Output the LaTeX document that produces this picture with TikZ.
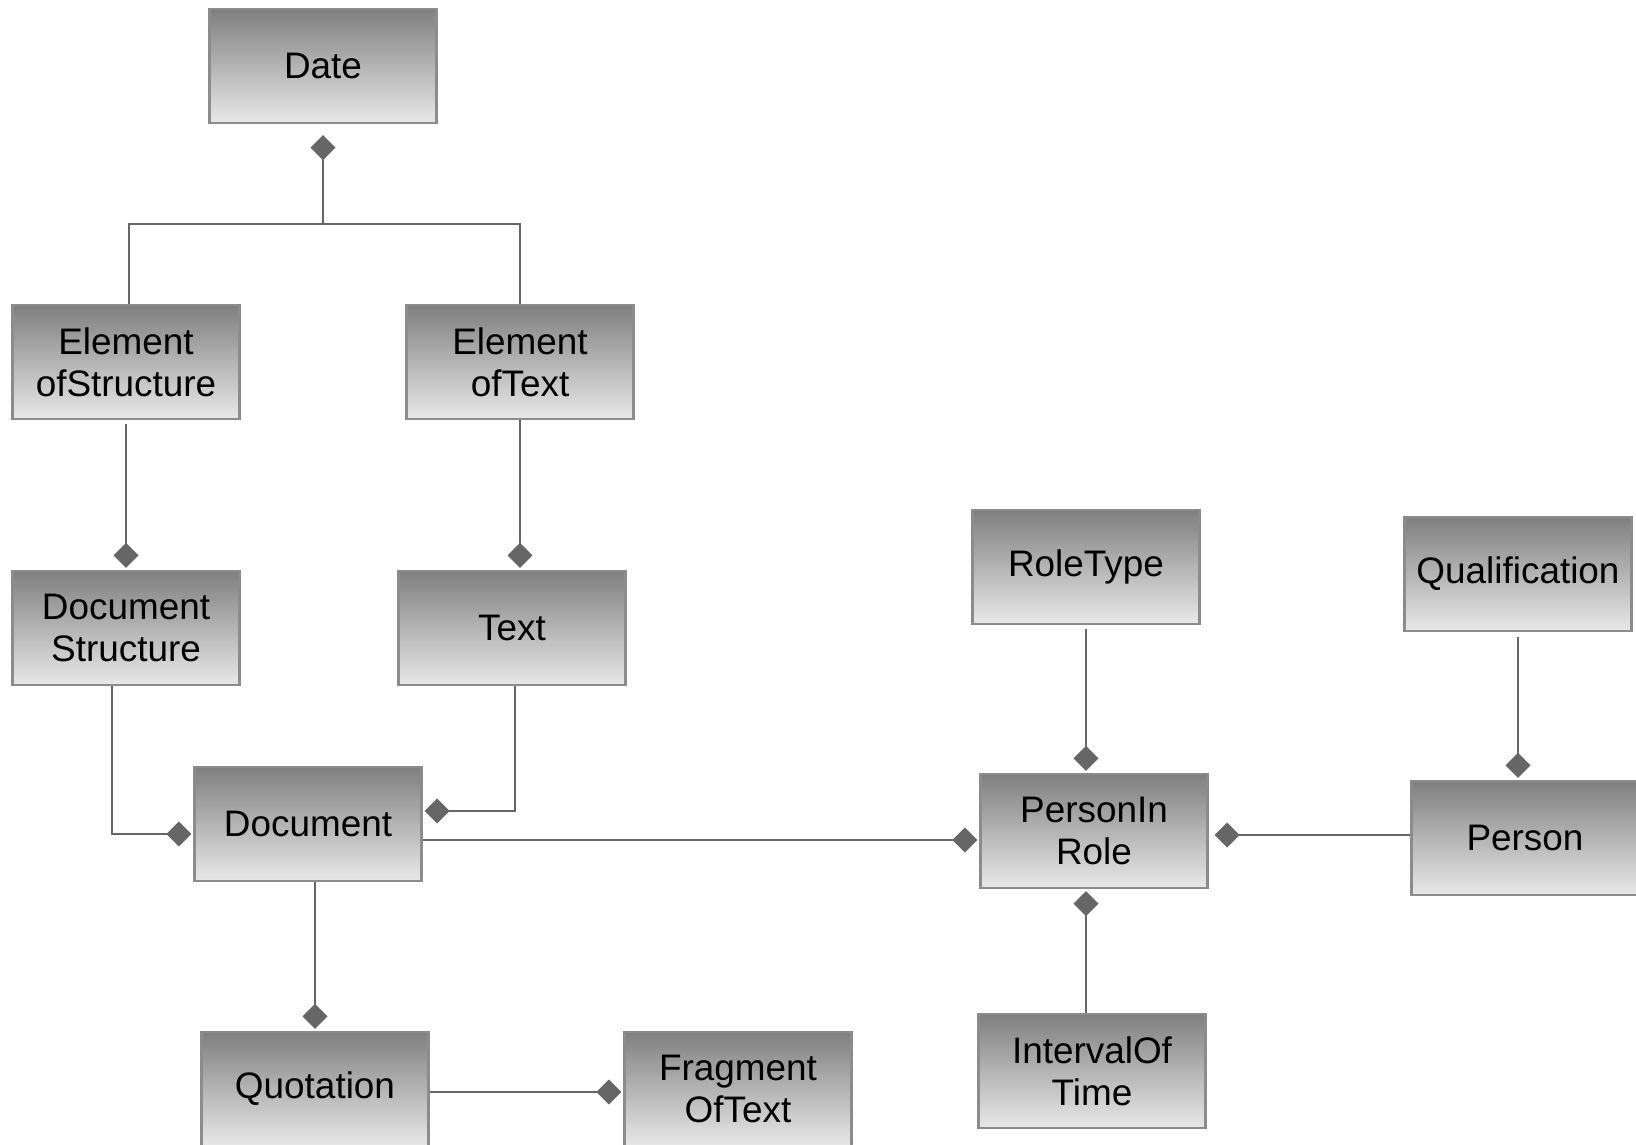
\documentclass[tikz,border=0pt]{standalone}
\usepackage{fontspec}
\setmainfont{Liberation Sans}
\usetikzlibrary{arrows.meta}

\definecolor{linegray}{HTML}{666666}
\definecolor{boxline}{HTML}{8C8C8C}

\tikzset{
  entity/.style={draw=boxline, line width=1.2pt, top color=black!50, bottom color=black!9,
    minimum width=4.54cm, minimum height=2.28cm, inner sep=0pt, align=center,
    font=\fontsize{21}{23.7}\selectfont},
  link/.style={draw=linegray, line width=1.1pt},
  has/.style={link, -{Diamond[length=0.5cm,width=0.5cm]}, shorten >=0.04cm},
}

\begin{document}
\begin{tikzpicture}
  \clip (0,0) rectangle (32.72,-22.88);
  \useasboundingbox (0,0) rectangle (32.72,-22.88);

  % Boxes
  \node[entity] (date) at (6.46,-1.32) {Date};
  \node[entity] (elemstruct) at (2.52,-7.24) {Element\\ofStructure};
  \node[entity] (elemtext) at (10.40,-7.24) {Element\\ofText};
  \node[entity] (docstruct) at (2.52,-12.56) {Document\\Structure};
  \node[entity] (text) at (10.24,-12.56) {Text};
  \node[entity] (document) at (6.16,-16.48) {Document};
  \node[entity] (quotation) at (6.30,-21.78) {Quotation};
  \node[entity] (fragment) at (14.76,-21.78) {Fragment\\OfText};
  \node[entity] (roletype) at (21.72,-11.34) {RoleType};
  \node[entity] (personrole) at (21.88,-16.62) {PersonIn\\Role};
  \node[entity] (qualification) at (30.36,-11.48) {Qualification};
  \node[entity] (person) at (30.50,-16.76) {Person};
  \node[entity] (interval) at (21.84,-21.42) {IntervalOf\\Time};

  % Bends
  \coordinate (fork) at (6.46,-4.48);
  \coordinate (dsbend) at (2.24,-16.68);
  \coordinate (txbend) at (10.30,-16.22);
  \coordinate (docrole) at (0,-16.80);
  \coordinate (personlink) at (0,-16.70);
  \coordinate (quotelink) at (0,-21.84);

  % Date and its elements
  \draw[has, shorten >=0.22cm] (fork) -- (date.south);
  \draw[link] ([xshift=0.06cm]elemstruct.north) |- (fork) -| (elemtext.north);

  % Elements to document parts
  \draw[has] ([yshift=-0.08cm]elemstruct.south) -- (elemstruct.south |- docstruct.north);
  \draw[has] (elemtext.south) -- (elemtext.south |- text.north);
  \draw[has] (dsbend |- docstruct.south) -- (dsbend) -- (document.west |- dsbend);
  \draw[has] (txbend |- text.south) -- (txbend) -- (document.east |- txbend);

  % Document and quotation
  \draw[has] (quotation.north |- document.south) -- (quotation.north);
  \draw[has] (quotation.east |- quotelink) -- (fragment.west |- quotelink);

  % Person in role
  \draw[has] (document.east |- docrole) -- (personrole.west |- docrole);
  \draw[has, shorten >=0.12cm] (person.west |- personlink) -- (personrole.east |- personlink);
  \draw[has] ([yshift=-0.08cm]roletype.south) -- (roletype.south |- personrole.north);
  \draw[has] (roletype.south |- interval.north) -- (roletype.south |- personrole.south);
  \draw[has] ([yshift=-0.1cm]qualification.south) -- (qualification.south |- person.north);
\end{tikzpicture}
\end{document}
